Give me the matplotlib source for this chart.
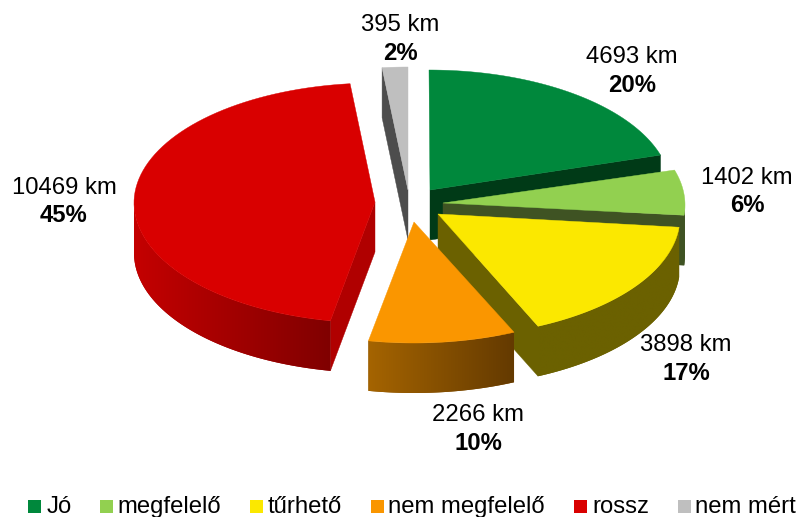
import matplotlib
matplotlib.use("Agg")
import matplotlib.pyplot as plt
import numpy as np
from matplotlib.patches import Polygon, Rectangle

plt.rcParams["font.family"] = ["Liberation Sans", "DejaVu Sans"]

# data
names = ["Jó", "megfelelő", "tűrhető", "nem megfelelő", "rossz", "nem mért"]
km = [4693, 1402, 3898, 2266, 10469, 395]

# styles
top_colors = ["#00883C", "#92D050", "#FBE800", "#FA9600", "#D90000", "#BFBFBF"]
edge_colors = ["#003A17", "#3F5323", "#6B6100", "#6B4000", "#B00000", "#4D4D4D"]
wall_left = ["#003A17", "#3F5323", "#6B6100", "#A56400", "#C40000", "#4D4D4D"]
wall_right = ["#003A17", "#3F5323", "#6B6100", "#643A00", "#800000", "#4D4D4D"]
rim_centers = [(429, 190), (443, 205), (438, 217), (414, 223), (376, 203), (408, 187)]
apexes = [(430, 190), (443, 203), (438, 214), (414, 222), (375, 202), (408, 190)]
label_pos = [(632, 57), (747, 178), (686, 345), (478, 415), (64, 188), (400, 25)]
legend_box_x = [28, 100, 250, 371, 574, 678]
legend_text_x = [47, 117, 268, 388, 592, 695]
RX, RY, DEPTH = 242, 120, 50
FONT = 17.2


def rim(center, angles):
    # angles run clockwise from the top of the pie
    return center[0] + RX * np.sin(angles), center[1] - RY * np.cos(angles)


def draw_edge(ax, apex, center, angle, color, z):
    x, y = rim(center, angle)
    ax.add_patch(Polygon([apex, (x, y), (x, y + DEPTH), (apex[0], apex[1] + DEPTH)],
                         facecolor=color, edgecolor=color, linewidth=0.3, zorder=z))


def draw_wall(ax, center, start, end, left, right, z):
    lo, hi = max(start, np.pi / 2), min(end, 3 * np.pi / 2)
    if lo >= hi:
        return
    steps = np.linspace(lo, hi, 60)
    x, y = rim(center, steps)
    pts = list(zip(x, y)) + list(zip(x[::-1], y[::-1] + DEPTH))
    c1 = np.array(matplotlib.colors.to_rgb(left))
    c2 = np.array(matplotlib.colors.to_rgb(right))
    grad = np.linspace(c1, c2, 128)[np.newaxis, :, :]
    # solid base keeps the polygon outline smooth under the clipped gradient
    ax.add_patch(Polygon(pts, facecolor=(c1 + c2) / 2, edgecolor="none", zorder=z))
    im = ax.imshow(grad, extent=(x.min(), x.max(), y.max() + DEPTH, y.min()), aspect="auto",
                   interpolation="bilinear", zorder=z + 0.1)
    im.set_clip_path(Polygon(pts, transform=ax.transData))


fig = plt.figure(figsize=(7.98, 5.17), dpi=100)
ax = fig.add_axes([0, 0, 1, 1])
ax.axis("off")

total = sum(km)
stops = np.concatenate([[0], np.cumsum(km)]) / total * 2 * np.pi

z = 1
for i in [5, 4, 0, 1, 2, 3]:
    start, end = stops[i], stops[i + 1]
    if np.sin(start) < -1e-6:
        draw_edge(ax, apexes[i], rim_centers[i], start, edge_colors[i], z)
    if np.sin(end) > 1e-6:
        draw_edge(ax, apexes[i], rim_centers[i], end, edge_colors[i], z)
    draw_wall(ax, rim_centers[i], start, end, wall_left[i], wall_right[i], z + 1)
    x, y = rim(rim_centers[i], np.linspace(start, end, 80))
    pts = [apexes[i]] + list(zip(x, y))
    ax.add_patch(Polygon(pts, facecolor=top_colors[i], edgecolor=top_colors[i], linewidth=0.3, zorder=z + 2))
    z += 3

for i, name in enumerate(names):
    lx, ly = label_pos[i]
    ax.text(lx, ly, f"{km[i]} km", ha="center", va="center", fontsize=FONT, color="#000000", zorder=z)
    ax.text(lx, ly + 28, f"{round(km[i] / total * 100)}%", ha="center", va="center",
            fontsize=FONT, fontweight="bold", color="#000000", zorder=z)
    ax.add_patch(Rectangle((legend_box_x[i], 500), 13, 13, facecolor=top_colors[i], edgecolor="none", zorder=z))
    ax.text(legend_text_x[i], 513, name, ha="left", va="baseline", fontsize=FONT, color="#000000", zorder=z)

ax.set_xlim(0, 798)
ax.set_ylim(517, 0)
fig.savefig("out.png", dpi=100)
